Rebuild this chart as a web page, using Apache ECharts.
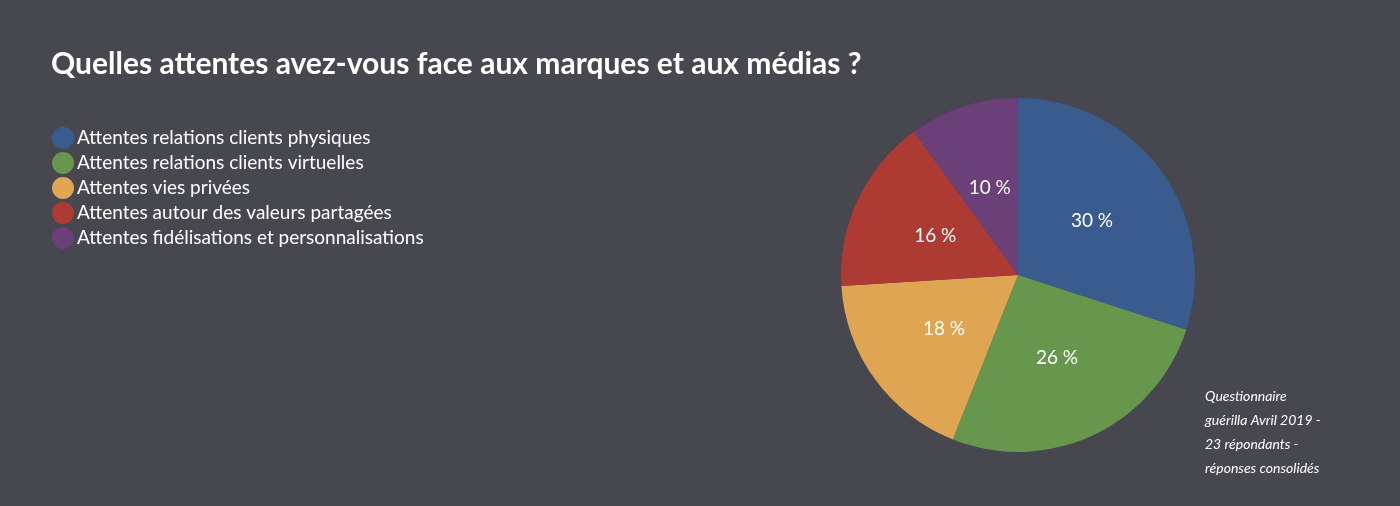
<!DOCTYPE html><html><head><meta charset="utf-8">
<script src="https://cdn.jsdelivr.net/npm/echarts@6/dist/echarts.min.js"></script>
<style>html,body{margin:0;background:#47474f}#c{width:1400px;height:506px}</style></head><body><div id="c"></div>
<script>
const categories=["Attentes relations clients physiques","Attentes relations clients virtuelles","Attentes vies privées","Attentes autour des valeurs partagées","Attentes fidélisations et personnalisations"];
const values=[30,26,18,16,10];
const colors=["#3a5b8d","#67964d","#e0a552","#ae3a34","#6b3f78"];
const chart=echarts.init(document.getElementById('c'));
chart.setOption({
backgroundColor:'#47474f',
title:{text:'Quelles attentes avez-vous face aux marques et aux médias ?',left:46,top:44,textStyle:{color:'#fff',fontFamily:'Lato',fontSize:30,fontWeight:'bold'}},
legend:{orient:'vertical',left:47,top:122,itemWidth:22,itemHeight:22,itemGap:3,icon:'circle',
 textStyle:{color:'#fff',fontFamily:'Lato',fontSize:19,padding:[0,0,0,-2]},data:categories},
graphic:[{type:'text',left:1205,top:384,style:{text:'Questionnaire\nguérilla Avril 2019 -\n23 répondants -\nréponses consolidés',fill:'#fff',font:'italic 14px Lato',lineHeight:24}}],
series:[{type:'pie',center:[1018,275],radius:177,startAngle:90,clockwise:true,
 label:{position:'inside',formatter:'{c} %',color:'#fff',fontFamily:'Lato',fontSize:19},
 labelLine:{show:false},itemStyle:{borderWidth:0},emphasis:{disabled:true},
 data:categories.map((n,i)=>({name:n,value:values[i],itemStyle:{color:colors[i]}}))}]
});
</script></body></html>
